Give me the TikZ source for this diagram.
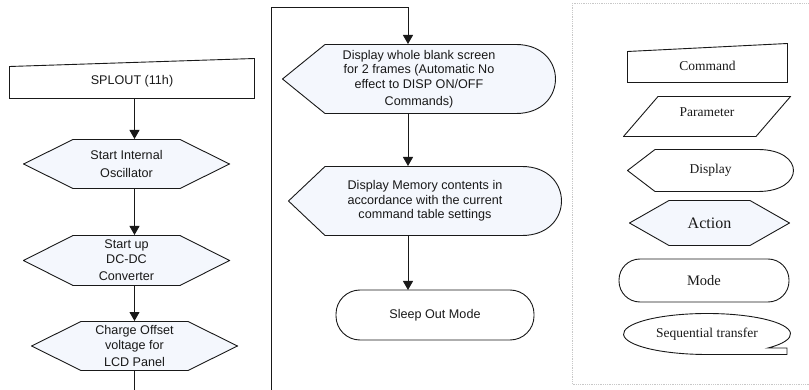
\documentclass[tikz,border=0pt]{standalone}
\usepackage{fontspec}
\setmainfont{Liberation Serif}
\setsansfont{Liberation Sans}
\usetikzlibrary{arrows.meta,calc}
\definecolor{tinta}{RGB}{25,25,25}
\definecolor{relleno}{RGB}{244,247,253}
\definecolor{marco}{RGB}{200,200,200}

\begin{document}
\begin{tikzpicture}[x=1pt, y=-1pt,
  linea/.style={draw=tinta, line width=.9pt},
  flecha/.style={linea, -{Triangle[width=10pt,length=9pt]}},
  cuerpo/.style={fill=relleno},
  forma/.style={inner sep=0pt, outer sep=0pt, align=center, text=tinta},
  flujo/.style={forma, font=\sffamily\fontsize{12.6}{14.5}\selectfont},
  leyenda/.style={forma, font=\fontsize{13.5}{15}\selectfont},
  comando/.style={text height=15pt, path picture={
    \draw[linea] ([shift={(.5pt,-8.5pt)}]path picture bounding box.north west)
      -- ([shift={(-.5pt,-.5pt)}]path picture bounding box.north east)
      -- ([shift={(-.5pt,.5pt)}]path picture bounding box.south east)
      -- ([shift={(.5pt,.5pt)}]path picture bounding box.south west) -- cycle;}},
  parametro/.style={text depth=9pt, path picture={
    \draw[linea] ([shift={(35pt,-.5pt)}]path picture bounding box.north west)
      -- ([shift={(-.5pt,-.5pt)}]path picture bounding box.north east)
      -- ([shift={(-35pt,.5pt)}]path picture bounding box.south east)
      -- ([shift={(.5pt,.5pt)}]path picture bounding box.south west) -- cycle;}},
  accion/.style={path picture={
    \draw[linea, cuerpo] ([xshift=.5pt]path picture bounding box.west)
      -- ([shift={(#1pt,-.5pt)}]path picture bounding box.north west)
      -- ([shift={(-#1pt,-.5pt)}]path picture bounding box.north east)
      -- ([xshift=-.5pt]path picture bounding box.east)
      -- ([shift={(-#1pt,.5pt)}]path picture bounding box.south east)
      -- ([shift={(#1pt,.5pt)}]path picture bounding box.south west) -- cycle;}},
  accion/.default=50,
  pantalla/.style 2 args={path picture={
    \draw[linea, cuerpo] ([xshift=.5pt]path picture bounding box.west)
      -- ([shift={(#1pt,-.5pt)}]path picture bounding box.north west)
      -- ([shift={(-#2pt,-.5pt)}]path picture bounding box.north east)
      .. controls ([shift={(#2pt/3-.7pt,-.5pt)}]path picture bounding box.north east)
      and ([shift={(#2pt/3-.7pt,.5pt)}]path picture bounding box.south east)
      .. ([shift={(-#2pt,.5pt)}]path picture bounding box.south east)
      -- ([shift={(#1pt,.5pt)}]path picture bounding box.south west) -- cycle;}},
  modo/.style={forma, linea, rounded corners=#1},
  modo/.default=21pt,
  secuencial/.style={path picture={
    \draw[linea] ([shift={(80pt,-14pt)}]path picture bounding box.center)
      -- ([shift={(61pt,-14pt)}]path picture bounding box.center)
      arc[start angle=-43.1, end angle=270, x radius=83.5pt, y radius=20.5pt]
      -- ([shift={(80pt,-20.5pt)}]path picture bounding box.center) -- cycle;}},
]
  \useasboundingbox (0,0) rectangle (809,390);
  % Secuencia principal
  \node[flujo, comando, minimum width=246pt, minimum height=41pt] (splout)
    at (132,78.5) {SPLOUT (11h)};
  \node[flujo, accion, minimum width=207pt, minimum height=50pt] (osc)
    at (126.5,164) {Start Internal\\[3pt]Oscillator};
  \node[flujo, accion, minimum width=207pt, minimum height=51pt] (dcdc)
    at (126.5,260.5) {Start up\\DC-DC\\[3pt]Converter};
  \node[flujo, accion, minimum width=207pt, minimum height=50pt] (carga)
    at (134.5,346) {Charge Offset\\voltage for\\[3pt]LCD Panel};
  \node[flujo, pantalla={43}{40}, minimum width=274pt, minimum height=70pt] (blanco)
    at (419,79) {Display whole blank screen\\for 2 frames (Automatic No\\
    effect to DISP ON/OFF\\[3pt]Commands)};
  \node[flujo, pantalla={37}{40}, minimum width=274pt, minimum height=70pt] (memoria)
    at (425,201) {Display Memory contents in\\accordance with the current\\
    command table settings};
  \node[flujo, modo=24pt, minimum width=198pt, minimum height=50pt] (sueno)
    at (435,315) {Sleep Out Mode};
  % Conectores
  \coordinate (fin) at (134.5,392);
  \coordinate (retorno) at (271,392);
  \coordinate (codo) at (408,7);
  \draw[flecha] (splout.south -| carga) -- (osc.north -| carga);
  \draw[flecha] (osc.south -| carga) -- (dcdc.north -| carga);
  \draw[flecha] (dcdc.south -| carga) -- (carga.north);
  \draw[linea] (carga.south) -- (fin);
  \draw[flecha] (retorno) |- (codo) -- (blanco.north -| codo);
  \draw[flecha] (blanco.south -| codo) -- (memoria.north -| codo);
  \draw[flecha] (memoria.south -| codo) -- (sueno.north -| codo);
  % Leyenda
  \draw[marco, densely dotted, line width=.8pt] (572,3) rectangle (815,384);
  \node[leyenda, comando, minimum width=161pt, minimum height=40pt] (l-comando)
    at (707.5,63) {Command};
  \node[leyenda, parametro, minimum width=168pt, minimum height=41pt] (l-parametro)
    at (707,116.5) {Parameter};
  \node[leyenda, pantalla={28}{36}, cuerpo/.style={fill=none},
    minimum width=167pt, minimum height=43pt] (l-pantalla)
    at (710.5,170.5) {Display};
  \node[leyenda, accion=40, font=\fontsize{16}{18}\selectfont,
    minimum width=161pt, minimum height=46pt] (l-accion)
    at (709.5,223) {Action};
  \node[leyenda, modo, font=\fontsize{14.5}{16}\selectfont,
    minimum width=170pt, minimum height=43pt] (l-modo)
    at (704,280.5) {Mode};
  \node[leyenda, secuencial, minimum width=168pt, minimum height=42pt] (l-secuencial)
    at (707,334) {Sequential transfer};
\end{tikzpicture}
\end{document}
